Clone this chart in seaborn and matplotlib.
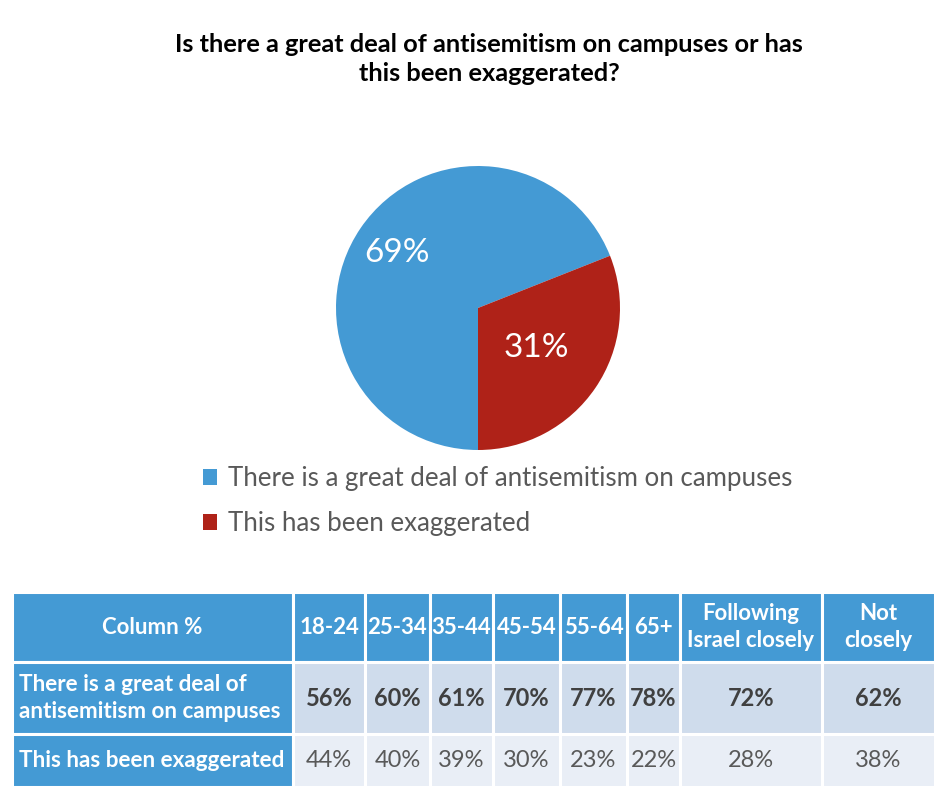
import matplotlib
matplotlib.use("Agg")
import matplotlib.pyplot as plt
from matplotlib.patches import Rectangle
import numpy as np
import seaborn as sns

# dados do gráfico
pie_labels = ["There is a great deal of antisemitism on campuses",
              "This has been exaggerated"]
pie_values = [69, 31]

col_header = "Column %"
columns = ["18-24", "25-34", "35-44", "45-54", "55-64", "65+",
           "Following\nIsrael closely", "Not\nclosely"]
row_labels = ["There is a great deal of\nantisemitism on campuses",
              "This has been exaggerated"]
great_deal = [56, 60, 61, 70, 77, 78, 72, 62]
exaggerated = [44, 40, 39, 30, 23, 22, 28, 38]

title = "Is there a great deal of antisemitism on campuses or has\nthis been exaggerated?"

BLUE = "#449AD4"
RED = "#AF2218"
ROW1 = "#CFDCEC"
ROW2 = "#E9EEF6"
GREY = "#595959"


def main():
    sns.set_theme(style="white")
    plt.rcParams["font.family"] = ["Lato", "DejaVu Sans"]

    W, H = 948, 806
    fig = plt.figure(figsize=(W / 100, H / 100), dpi=100)
    fig.patch.set_facecolor("white")

    fig.text(489 / W, 1 - 59 / H, title, ha="center", va="center",
             fontsize=18.3, fontweight="bold", color="black", linespacing=1.35)

    # pizza
    cx, cy, r = 478, 308, 142
    ax = fig.add_axes([(cx - r) / W, 1 - (cy + r) / H, 2 * r / W, 2 * r / H])
    wedges, _ = ax.pie(pie_values, colors=[BLUE, RED], startangle=-90,
                       counterclock=False,
                       wedgeprops=dict(linewidth=0))
    ax.set_xlim(-1, 1)
    ax.set_ylim(-1, 1)
    ax.set_aspect("equal")
    ax.axis("off")

    dists = [0.69, 0.50]
    for w, v, d in zip(wedges, pie_values, dists):
        ang = np.deg2rad((w.theta1 + w.theta2) / 2)
        ax.text(d * np.cos(ang), d * np.sin(ang), f"{v}%", ha="center",
                va="center", color="white", fontsize=24)

    fig.legend(wedges, pie_labels, loc="upper left",
               bbox_to_anchor=(180 / W, 1 - 443 / H), frameon=False,
               fontsize=18.6, labelcolor=GREY, handlelength=0.55,
               handleheight=0.55, handletextpad=0.4, labelspacing=0.78)

    # tabela
    tab = fig.add_axes([0, 0, 1, 1])
    tab.set_xlim(0, W)
    tab.set_ylim(H, 0)
    tab.axis("off")

    widths = [281, 72, 65, 63, 67, 67, 53, 142, 113]
    edges = [12]
    for wd in widths:
        edges.append(edges[-1] + wd)
    rows_y = [(592, 662), (662, 734), (734, 787)]

    def cell(i, j, fc, text, color, bold, size, align="center"):
        x0, x1 = edges[j], edges[j + 1]
        y0, y1 = rows_y[i]
        tab.add_patch(Rectangle((x0, y0), x1 - x0, y1 - y0, facecolor=fc,
                                edgecolor="white", linewidth=2.2))
        if align == "center":
            tx, ha = (x0 + x1) / 2, "center"
        else:
            tx, ha = x0 + 7, "left"
        tab.text(tx, (y0 + y1) / 2, text, ha=ha, va="center", color=color,
                 fontsize=size, fontweight="bold" if bold else "normal",
                 linespacing=1.35)

    cell(0, 0, BLUE, col_header, "white", True, 16)
    for j, c in enumerate(columns):
        cell(0, j + 1, BLUE, c, "white", True, 16)

    cell(1, 0, BLUE, row_labels[0], "white", True, 16.2, align="left")
    for j, v in enumerate(great_deal):
        cell(1, j + 1, ROW1, f"{v}%", "#404040", True, 17)

    cell(2, 0, BLUE, row_labels[1], "white", True, 16.2, align="left")
    for j, v in enumerate(exaggerated):
        cell(2, j + 1, ROW2, f"{v}%", GREY, False, 17)

    fig.savefig("out.png", dpi=100)
    plt.close(fig)


if __name__ == "__main__":
    main()
